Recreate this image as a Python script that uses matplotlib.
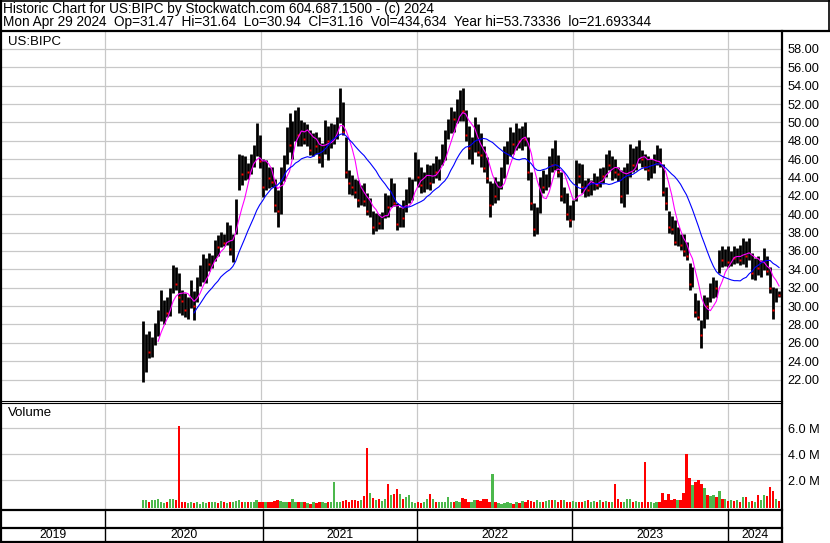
import matplotlib
matplotlib.use('Agg')
import matplotlib.pyplot as plt
from matplotlib.lines import Line2D
import numpy as np
import pandas as pd

plt.rcParams['font.family'] = ['Liberation Sans', 'DejaVu Sans']

W, H = 830, 543

# weekly bars (week starting 2020-03-30 .. 2024-04-29)
highs = [28.4, 27.0, 27.3, 26.6, 28.2, 29.6, 31.7, 30.7, 31.0, 32.0,
         34.5, 34.3, 33.6, 31.8, 31.4, 31.0, 32.8, 31.6, 33.2, 34.5,
         35.7, 35.2, 35.8, 35.6, 37.2, 37.7, 38.1, 37.8, 39.2, 38.8,
         37.9, 41.7, 46.6, 46.4, 46.3, 45.6, 46.6, 47.5, 49.9, 48.6,
         46.0, 45.9, 45.2, 45.2, 43.8, 42.6, 45.2, 46.5, 49.5, 51.0,
         50.2, 51.4, 51.7, 50.3, 50.0, 49.8, 49.2, 48.8, 49.0, 48.4,
         47.8, 50.3, 49.6, 49.9, 49.8, 50.6, 53.8, 52.2, 48.4, 44.8,
         44.3, 43.8, 43.7, 43.2, 43.4, 42.3, 41.8, 40.4, 40.1, 40.0,
         40.2, 42.3, 42.1, 43.9, 43.4, 41.2, 40.8, 41.6, 42.8, 44.1,
         43.8, 46.8, 46.0, 45.2, 44.6, 45.5, 45.4, 45.6, 46.3, 46.0,
         47.6, 49.2, 50.4, 51.7, 51.2, 52.6, 53.5, 53.7, 51.4, 49.6,
         48.4, 50.6, 49.8, 48.8, 47.4, 46.2, 43.6, 43.4, 44.1, 43.6,
         45.2, 47.4, 48.0, 49.5, 49.0, 49.9, 49.4, 49.6, 50.1, 48.4,
         44.6, 41.2, 40.8, 44.1, 44.8, 44.4, 46.3, 47.2, 48.1, 46.4,
         44.6, 43.0, 42.3, 41.0, 41.6, 45.9, 45.6, 45.5, 43.7, 43.9,
         43.7, 44.5, 44.2, 45.0, 45.2, 46.6, 47.0, 46.3, 46.0, 45.2,
         44.8, 45.2, 45.6, 47.7, 47.2, 47.4, 48.1, 47.0, 46.6, 46.3,
         46.0, 46.6, 47.5, 47.2, 45.5, 43.0, 40.4, 39.8, 39.4, 38.6,
         37.9, 37.9, 37.0, 34.7, 34.3, 31.4, 30.7, 28.5, 31.2, 31.0,
         32.5, 33.2, 32.8, 36.1, 36.5, 36.2, 36.5, 36.0, 36.5, 36.3,
         36.6, 37.4, 37.1, 37.4, 35.8, 35.2, 35.4, 35.0, 36.3, 35.4,
         34.3, 32.1, 32.0, 31.64]

lows = [21.7, 22.8, 24.3, 24.4, 25.8, 26.7, 28.4, 28.1, 28.8, 28.9,
        31.4, 31.8, 29.2, 29.0, 28.8, 28.6, 29.8, 28.5, 30.4, 32.2,
        32.6, 32.5, 33.8, 34.2, 34.9, 35.5, 36.4, 36.5, 36.6, 35.6,
        34.8, 37.8, 42.6, 43.2, 43.7, 43.8, 44.4, 45.2, 46.3, 45.0,
        41.9, 42.6, 42.9, 43.0, 40.2, 38.6, 40.0, 43.6, 45.5, 46.8,
        46.0, 48.0, 47.4, 47.4, 47.6, 47.4, 46.5, 46.3, 46.6, 45.6,
        45.1, 46.6, 45.9, 47.2, 47.6, 48.2, 49.9, 48.6, 43.9, 42.2,
        42.1, 41.8, 40.8, 41.0, 40.9, 39.9, 39.7, 37.8, 38.2, 38.4,
        38.4, 39.6, 39.7, 40.8, 40.9, 38.3, 38.6, 38.6, 40.2, 41.2,
        41.6, 43.6, 43.0, 42.3, 42.4, 42.8, 42.6, 43.4, 44.0, 43.7,
        45.4, 45.9, 48.2, 48.8, 49.0, 49.9, 50.2, 50.2, 48.0, 46.0,
        45.5, 46.8, 46.3, 45.2, 44.6, 43.4, 39.7, 41.0, 41.2, 41.5,
        42.8, 44.0, 45.5, 46.3, 46.6, 47.0, 47.2, 47.0, 47.4, 43.7,
        40.5, 37.6, 37.8, 40.1, 42.3, 42.6, 43.0, 44.6, 44.8, 44.1,
        41.4, 41.2, 39.4, 38.6, 39.4, 41.4, 43.4, 42.3, 41.9, 42.0,
        42.1, 42.6, 42.8, 43.0, 43.4, 44.1, 44.8, 43.7, 44.0, 43.6,
        41.2, 40.8, 42.2, 44.1, 44.6, 44.8, 45.6, 45.2, 44.8, 43.7,
        44.0, 44.5, 45.4, 45.2, 42.0, 40.5, 38.0, 37.9, 36.6, 36.5,
        36.1, 35.4, 35.0, 31.7, 32.1, 28.8, 28.5, 25.4, 27.6, 28.6,
        30.4, 30.9, 31.0, 33.6, 34.3, 34.4, 34.3, 34.4, 34.6, 34.7,
        34.5, 34.6, 34.3, 35.0, 33.0, 32.8, 33.4, 33.2, 33.9, 33.4,
        31.4, 28.6, 30.4, 30.94]

closes = [23.6, 25.6, 25.0, 26.2, 27.6, 29.0, 29.4, 30.2, 29.2, 31.5,
          33.8, 32.4, 31.0, 30.5, 29.6, 30.8, 31.2, 30.0, 32.8, 33.8,
          34.2, 35.0, 34.6, 35.2, 36.8, 36.4, 37.6, 36.9, 38.6, 36.2,
          37.4, 41.3, 45.8, 44.4, 45.2, 44.6, 46.0, 46.9, 48.5, 45.8,
          43.0, 44.8, 44.0, 43.5, 41.0, 40.4, 44.6, 45.8, 48.8, 47.5,
          49.4, 50.5, 48.6, 49.6, 48.2, 48.8, 47.0, 48.2, 47.4, 46.2,
          47.2, 49.2, 48.0, 48.8, 49.2, 50.2, 52.6, 49.0, 44.6, 43.4,
          43.0, 42.4, 41.6, 42.6, 41.4, 40.4, 40.6, 38.6, 39.4, 39.0,
          39.8, 41.6, 40.8, 43.2, 41.2, 38.9, 40.2, 39.6, 42.4, 43.0,
          43.5, 45.6, 44.1, 43.2, 44.0, 45.0, 43.4, 45.2, 44.6, 45.6,
          47.2, 48.6, 49.4, 51.2, 50.4, 51.8, 52.4, 51.2, 48.6, 47.2,
          47.8, 49.2, 46.8, 46.4, 45.0, 44.0, 41.0, 42.6, 42.0, 43.2,
          44.8, 46.6, 47.2, 48.8, 47.6, 48.6, 48.0, 49.2, 48.2, 44.6,
          41.2, 38.4, 40.2, 43.4, 43.0, 44.0, 45.6, 45.4, 47.0, 44.6,
          42.0, 42.4, 40.0, 39.4, 41.2, 45.0, 44.2, 43.0, 43.2, 42.6,
          43.4, 44.0, 43.2, 44.6, 44.2, 46.0, 45.4, 45.8, 44.6, 44.4,
          42.0, 44.8, 44.8, 46.8, 45.4, 46.6, 47.6, 46.0, 45.2, 44.8,
          45.8, 46.2, 46.8, 45.6, 42.4, 41.2, 38.6, 38.4, 37.0, 37.8,
          36.6, 36.0, 35.4, 32.4, 32.8, 29.4, 28.8, 26.8, 30.4, 30.0,
          31.6, 32.4, 32.0, 35.4, 35.0, 35.8, 34.8, 35.6, 35.2, 36.0,
          35.0, 36.8, 35.4, 36.4, 33.6, 34.6, 34.2, 34.8, 35.0, 33.8,
          32.0, 29.6, 31.6, 31.16]

# volume in millions
volume = [0.45, 0.5, 0.35, 0.45, 0.5, 0.55, 0.3, 0.25, 0.35, 0.55,
          0.6, 0.5, 6.2, 0.3, 0.35, 0.25, 0.3, 0.25, 0.3, 0.2,
          0.3, 0.25, 0.3, 0.35, 0.3, 0.25, 0.4, 0.3, 0.25, 0.3,
          0.35, 0.4, 0.5, 0.3, 0.35, 0.3, 0.3, 0.35, 0.45, 0.3,
          0.35, 0.3, 0.35, 0.3, 0.4, 0.45, 0.4, 0.35, 0.3, 0.35,
          0.6, 0.35, 0.3, 0.3, 0.35, 0.25, 0.2, 0.3, 0.25, 0.3,
          0.3, 0.25, 0.3, 0.3, 1.85, 0.35, 0.3, 0.4, 0.45, 0.35,
          0.45, 0.5, 0.4, 0.45, 0.8, 4.45, 1.05, 0.65, 0.45, 0.55,
          0.4, 0.55, 1.75, 0.9, 0.95, 1.3, 0.95, 0.6, 0.75, 0.9,
          0.3, 0.25, 0.3, 0.25, 0.3, 0.55, 0.95, 0.55, 0.3, 0.3,
          0.35, 0.3, 0.75, 0.3, 0.35, 0.4, 0.3, 0.65, 0.55, 0.3,
          0.35, 0.45, 0.45, 0.4, 0.55, 0.6, 0.35, 2.5, 0.3, 0.25,
          0.2, 0.25, 0.3, 0.25, 0.2, 0.3, 0.25, 0.4, 0.3, 0.45,
          0.4, 0.35, 0.45, 0.3, 0.35, 0.4, 0.45, 0.5, 0.45, 0.35,
          0.5, 0.45, 0.35, 0.3, 0.4, 0.3, 0.35, 0.3, 0.4, 0.45,
          0.35, 0.4, 0.3, 0.5, 0.35, 0.4, 0.3, 0.3, 1.7, 0.55,
          0.3, 0.35, 0.55, 0.6, 0.35, 0.4, 0.35, 0.3, 3.4, 0.35,
          0.3, 0.25, 0.3, 0.35, 1.05, 0.5, 0.95, 0.5, 0.55, 0.45,
          0.5, 1.05, 4.0, 2.15, 1.65, 1.9, 2.0, 1.7, 1.4, 0.85,
          0.8, 0.85, 0.7, 1.2, 0.6, 0.55, 0.4, 0.45, 0.4, 0.45,
          0.35, 0.75, 0.7, 0.35, 0.4, 0.35, 0.85, 0.5, 0.85, 0.8,
          1.45, 1.15, 0.6, 0.4]

price_ticks = list(range(22, 59, 2))
vol_ticks = [2, 4, 6]
year_labels = ['2019', '2020', '2021', '2022', '2023', '2024']

title1 = 'Historic Chart for US:BIPC by Stockwatch.com 604.687.1500 - (c) 2024'
title2 = ('Mon Apr 29 2024  Op=31.47  Hi=31.64  Lo=30.94  Cl=31.16  '
          'Vol=434,634  Year hi=53.73336  lo=21.693344')

dates = pd.date_range('2020-03-30', periods=len(highs), freq='7D')
closes_s = pd.Series(closes)
ma_short = closes_s.rolling(6).mean()
ma_long = closes_s.rolling(18).mean()


def fx(px):
    return px / W


def fy(py):
    return 1 - py / H


def hline(y, x0, x1, lw=0.75):
    fig.add_artist(Line2D([fx(x0), fx(x1)], [fy(y), fy(y)], color='black', lw=lw,
                          transform=fig.transFigure))


def vline(x, y0, y1, lw=0.75):
    fig.add_artist(Line2D([fx(x), fx(x)], [fy(y0), fy(y1)], color='black', lw=lw,
                          transform=fig.transFigure))


fig = plt.figure(figsize=(W / 100, H / 100), dpi=100)

x_left = pd.Timestamp('2020-01-01') - pd.Timedelta(days=246.9)
x_right = pd.Timestamp('2024-01-01') + pd.Timedelta(days=125.9)
year_starts = [pd.Timestamp(f'{y}-01-01') for y in range(2020, 2025)]
grid_col = '#c8c8c8'

# price panel
ax = fig.add_axes([fx(0), fy(400), fx(782), fy(32) - fy(400)])
ax.set_xlim(x_left, x_right)
ax.set_ylim(19.77, 59.85)
ax.set_xticks(year_starts)
ax.set_xticklabels([])
ax.set_yticks(price_ticks)
ax.set_yticklabels([f'{t:.2f}' for t in price_ticks])
ax.yaxis.tick_right()
ax.tick_params(length=0, labelsize=9.2, pad=4)
ax.grid(color=grid_col, lw=0.9)
ax.set_axisbelow(True)
for s in ax.spines.values():
    s.set_visible(False)

ax.vlines(dates, lows, highs, color='black', lw=2.0)
down = [i for i in range(1, len(closes)) if closes[i] < closes[i - 1]]
ax.plot(dates[down], [closes[i] for i in down], 's', ms=1.7, color='red', mec='none')
ax.plot(dates, ma_short, color='#ff00ff', lw=0.8)
ax.plot(dates, ma_long, color='#0000ff', lw=0.8)
ax.text(fx(8) / fx(782), 0.973, 'US:BIPC', transform=ax.transAxes, fontsize=9.5,
        va='center', ha='left')

# volume panel
axv = fig.add_axes([fx(0), fy(508), fx(782), fy(403) - fy(508)])
axv.set_xlim(x_left, x_right)
vmin = -0.13
axv.set_ylim(vmin, 7.95)
axv.set_xticks(year_starts)
axv.set_xticklabels([])
axv.set_yticks(vol_ticks)
axv.set_yticklabels([f'{t:.1f} M' for t in vol_ticks])
axv.yaxis.tick_right()
axv.tick_params(length=0, labelsize=9.2, pad=4)
axv.grid(color=grid_col, lw=0.9)
axv.set_axisbelow(True)
for s in axv.spines.values():
    s.set_visible(False)
vcols = ['#4cb84c'] + ['#4cb84c' if closes[i] >= closes[i - 1] else '#ff0000'
                       for i in range(1, len(closes))]
axv.bar(dates, [v - vmin for v in volume], bottom=vmin, width=5.5, color=vcols, lw=0)
axv.text(fx(8) / fx(782), 1 - 10 / 105, 'Volume', transform=axv.transAxes,
         fontsize=9.5, va='center', ha='left')

# header
fig.text(fx(3), fy(9), title1, fontsize=9.8, va='center', ha='left')
fig.text(fx(3), fy(22), title2, fontsize=9.8, va='center', ha='left')

# frame lines
hline(0.5, 0, 830, 1.2)
vline(0.8, 0, 543, 1.6)
vline(828.5, 0, 31, 1.2)
hline(31.3, 0, 830, 1.6)
vline(782, 31, 543, 1.6)
hline(400.5, 0, 782, 0.8)
hline(402.8, 0, 782, 0.8)
hline(509.5, 0, 782, 1.6)
hline(527.5, 0, 782, 1.6)
hline(541.8, 0, 782, 1.6)

year_px = [105.3, 262.7, 416.7, 572.3, 728.3]
for xp in year_px:
    vline(xp, 509, 542, 1.0)
bounds = [0] + year_px + [782]
for lab, a, b in zip(year_labels, bounds[:-1], bounds[1:]):
    fig.text(fx((a + b) / 2), fy(535), lab, fontsize=8.8, ha='center', va='center')

fig.savefig('out.png', dpi=100)
